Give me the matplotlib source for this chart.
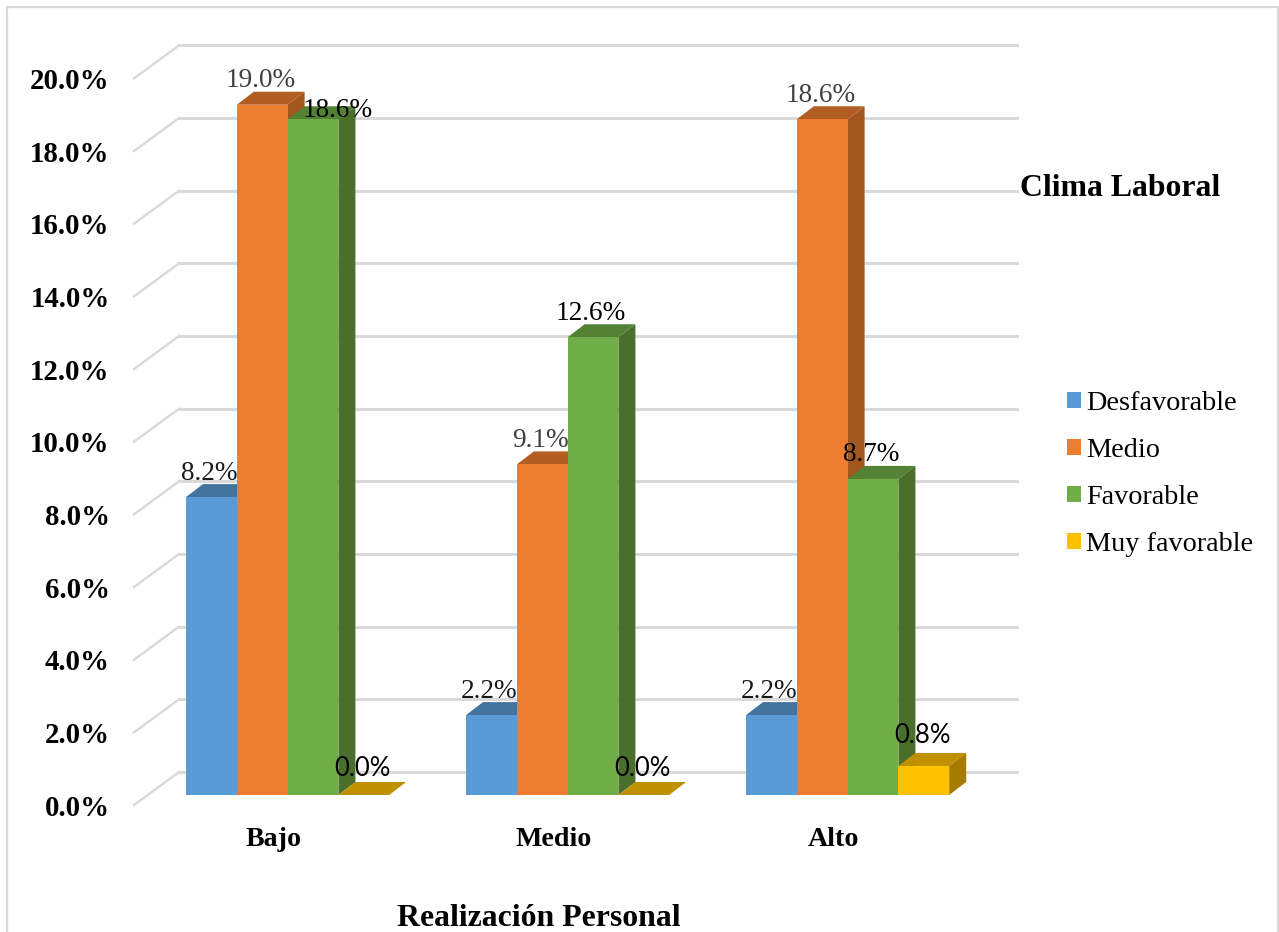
import matplotlib
matplotlib.use("Agg")
import matplotlib.pyplot as plt
from matplotlib.lines import Line2D
from matplotlib.patches import Patch, Polygon
from matplotlib.transforms import ScaledTranslation

categories = ["Bajo", "Medio", "Alto"]
series_names = ["Desfavorable", "Medio", "Favorable", "Muy favorable"]
desfavorable = [8.2, 2.2, 2.2]
medio = [19.0, 9.1, 18.6]
favorable = [18.6, 12.6, 8.7]
muy_favorable = [0.0, 0.0, 0.8]
y_ticks = [0, 2, 4, 6, 8, 10, 12, 14, 16, 18, 20]

SERIES_VALUES = [desfavorable, medio, favorable, muy_favorable]
# front, top, side colours of each 3D column
SERIES_COLORS = [
    ("#5B9BD5", "#44739F", "#3E6A93"),
    ("#ED7D31", "#B25E23", "#A4561F"),
    ("#70AD47", "#548235", "#4A6E2B"),
    ("#FFC000", "#BF9000", "#A67C00"),
]
LABEL_COLORS = ["#1A1A1A", "#404040", "#000000", "#000000"]

W, H = 1279, 932
PX_PER_PCT = 36.33
PX_PER_CAT = 280.0
BAR_W = 50.8 / PX_PER_CAT
BAR_START = -88 / PX_PER_CAT
DEPTH_X = 17 / PX_PER_CAT
DEPTH_Y = 13 / PX_PER_PCT
WALL_X = 45 / PX_PER_CAT
WALL_Y = 33 / PX_PER_PCT
FRONT_DROP = 10 / PX_PER_PCT

plt.rcParams["font.family"] = ["Liberation Serif", "DejaVu Serif"]

fig = plt.figure(figsize=(W / 100, H / 100), dpi=100)
left, right, top, bottom = 134, 1017, 40, 806
ax = fig.add_axes([left / W, 1 - bottom / H, (right - left) / W, (bottom - top) / H])
ax.set_xlim((left - 274) / PX_PER_CAT, (right - 274) / PX_PER_CAT)
ax.set_ylim((795 - bottom) / PX_PER_PCT, (795 - top) / PX_PER_PCT)
ax.set_facecolor("none")
for s in ax.spines.values():
    s.set_visible(False)

# back wall gridlines plus the diagonal floor/wall edge on the left
x0, x1 = ax.get_xlim()
for v in y_ticks:
    y_front = v - FRONT_DROP
    y_back = y_front + WALL_Y
    ax.plot([x0, x0 + WALL_X], [y_front, y_back], color="#D9D9D9", lw=1.7, zorder=1, clip_on=False)
    ax.plot([x0 + WALL_X, x1], [y_back, y_back], color="#D9D9D9", lw=2.1, zorder=1, clip_on=False)

z = 2
for i in range(len(categories)):
    for j, values in enumerate(SERIES_VALUES):
        val = values[i]
        x = i + BAR_START + j * BAR_W
        front, top_c, side_c = SERIES_COLORS[j]
        ax.add_patch(Polygon([(x, val), (x + BAR_W, val), (x + BAR_W + DEPTH_X, val + DEPTH_Y), (x + DEPTH_X, val + DEPTH_Y)],
                             closed=True, fc=top_c, ec="none", zorder=z))
        if val > 0:
            ax.add_patch(Polygon([(x + BAR_W, 0), (x + BAR_W + DEPTH_X, DEPTH_Y), (x + BAR_W + DEPTH_X, val + DEPTH_Y), (x + BAR_W, val)],
                                 closed=True, fc=side_c, ec="none", zorder=z))
            ax.bar(x, val, BAR_W, align="edge", color=front, zorder=z + 0.5)
        z += 1

# value labels sit on top of everything
for i in range(len(categories)):
    for j, values in enumerate(SERIES_VALUES):
        val = values[i]
        x = i + BAR_START + (j + 0.5) * BAR_W
        dx, dy = -2, 24
        if j == 2 and i == 0:
            dx, dy = 25, 9  # would collide with the taller orange column
        if j == 3:
            ax.annotate(f"{val:.1f}%", (x, val), textcoords="offset pixels", xytext=(-1, 27 if val == 0 else 30),
                        ha="center", va="center", fontsize=18.5, family="Lato", color="black", zorder=100)
        else:
            ax.annotate(f"{val:.1f}%", (x, val), textcoords="offset pixels", xytext=(dx, dy),
                        ha="center", va="center", fontsize=19.6, color=LABEL_COLORS[j], zorder=100)

ax.set_yticks(y_ticks)
ax.set_yticklabels([f"{v:.1f}%" for v in y_ticks], fontsize=20.8, fontweight="bold")
ax.set_xticks(range(len(categories)))
ax.set_xticklabels(categories, fontsize=20.2, fontweight="bold")
ax.tick_params(axis="both", length=0)
ax.tick_params(axis="y", pad=17.5)
ax.tick_params(axis="x", pad=15)
offset = ScaledTranslation(0, -10 / 100, fig.dpi_scale_trans)
for lab in ax.get_yticklabels():
    lab.set_transform(lab.get_transform() + offset)

fig.text(539 / W, 1 - 919 / H, "Realización Personal", ha="center", va="center", fontsize=22.9, fontweight="bold")
fig.text(1120 / W, 1 - 188 / H, "Clima Laboral", ha="center", va="center", fontsize=22.9, fontweight="bold")

handles = [Patch(fc=c[0], ec="none") for c in SERIES_COLORS]
fig.legend(handles, series_names, loc="upper left", bbox_to_anchor=(1067 / W, 1 - 391 / H),
           frameon=False, fontsize=20.3, handlelength=0.5, handleheight=0.5, handletextpad=0.18,
           labelspacing=0.78, borderpad=0, borderaxespad=0)

# open-bottomed light frame around the chart
frame_x = [6.5 / W, 6.5 / W, 1278 / W, 1278 / W]
frame_y = [0, 1 - 6.5 / H, 1 - 6.5 / H, 0]
fig.add_artist(Line2D(frame_x, frame_y, color="#D9D9D9", lw=1.6, transform=fig.transFigure))

fig.savefig("out.png", dpi=100)
